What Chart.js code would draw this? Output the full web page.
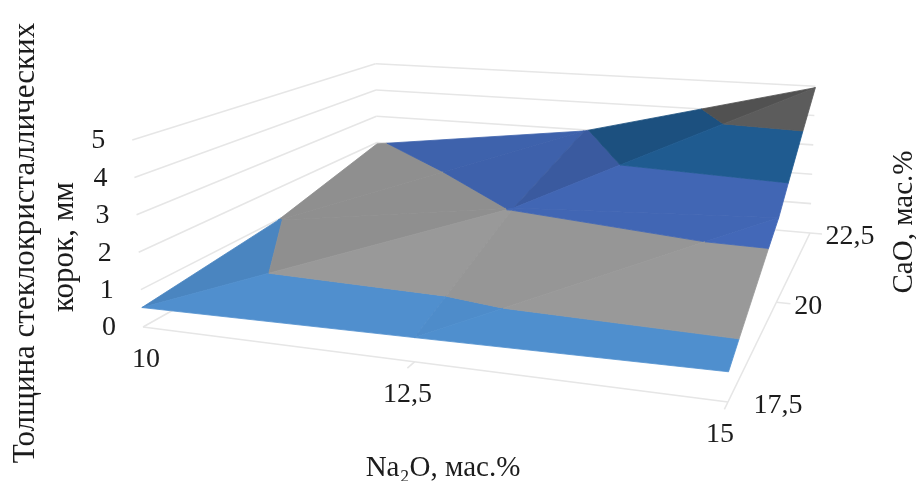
<!DOCTYPE html>
<html>
<head>
<meta charset="utf-8">
<script src="https://cdn.jsdelivr.net/npm/chart.js@4"></script>
<style>
    html, body { margin: 0; padding: 0; background: #fff; }
    #wrap { width: 916px; height: 481px; }
</style>
</head>
<body>
<div id="wrap"><canvas id="surfaceChart" width="916" height="481"></canvas></div>
<script>
const naLabels = ['10', '12,5', '15'];
const caoLabels = ['17,5', '20', '22,5'];
const zTicks = [0, 1, 2, 3, 4, 5];

// thickness, mm: one row per CaO value, one column per Na2O value
const thickness175 = [0.52, 0.60, 0.69];
const thickness20 = [0.98, 2.03, 2.40];
const thickness225 = [1.95, 2.96, 4.95];

const bandColors = ['#5090cf', '#9a9a9a', '#4369b9', '#205d94', '#5e5e5e'];
const gridColor = '#e6e6e6';

// camera: floor homography fitted to the box corners, z grows with 1/w
function project(u, v, z) {
    const w = -0.1336 * u + 0.3795 * v + 1;
    const fx = (487.7 * u + 378.5 * v + 143) / w;
    const fy = (21.3 * u - 58 * v + 327) / w;
    const lean = fx < 450 ? 0.007 : 0.003;
    return {
        x: fx + (fx - 450) * lean * z,
        y: fy - 37.4 / Math.pow(w, 1.1) * z
    };
}

function clipBelow(poly, limit, keepBelow) {
    const out = [];
    poly.forEach((p, i) => {
        const q = poly[(i + 1) % poly.length];
        const pIn = keepBelow ? p.z <= limit : p.z >= limit;
        const qIn = keepBelow ? q.z <= limit : q.z >= limit;
        if (pIn) out.push(p);
        if (pIn !== qIn) {
            const t = (limit - p.z) / (q.z - p.z);
            out.push({ u: p.u + (q.u - p.u) * t, v: p.v + (q.v - p.v) * t, z: limit });
        }
    });
    return out;
}

function shadeColor(hex, k) {
    const n = parseInt(hex.slice(1), 16);
    const r = Math.round(((n >> 16) & 255) * k);
    const g = Math.round(((n >> 8) & 255) * k);
    const b = Math.round((n & 255) * k);
    return `rgb(${r}, ${g}, ${b})`;
}

function node(rows, i, j) {
    return { u: i / 2, v: j / 2, z: rows[j][i] };
}

function surfaceDatasets() {
    const rows = [thickness175, thickness20, thickness225];
    const triangles = [];
    for (let j = 1; j >= 0; j--) {
        for (let i = 0; i < 2; i++) {
            const a = node(rows, i, j);
            const b = node(rows, i + 1, j);
            const c = node(rows, i + 1, j + 1);
            const d = node(rows, i, j + 1);
            triangles.push([a, c, d]);
            triangles.push([a, b, c]);
        }
    }
    const sets = [];
    triangles.forEach(tri => {
        const [p, q, r] = tri;
        const det = (q.u - p.u) * (r.v - p.v) - (r.u - p.u) * (q.v - p.v);
        const dzdu = ((q.z - p.z) * (r.v - p.v) - (r.z - p.z) * (q.v - p.v)) / det;
        const shade = 1 - 0.035 * Math.abs(dzdu);
        bandColors.forEach((color, band) => {
            let poly = tri;
            if (band > 0) poly = clipBelow(poly, band, false);
            if (band < bandColors.length - 1) poly = clipBelow(poly, band + 1, true);
            if (poly.length < 3) return;
            const pts = poly.map(n => project(n.u, n.v, n.z));
            pts.push(pts[0]);
            const col = shadeColor(color, shade);
            sets.push({
                data: pts,
                showLine: true,
                fill: 'shape',
                backgroundColor: col,
                borderColor: col,
                borderWidth: 0.8,
                pointRadius: 0,
                tension: 0
            });
        });
    });
    return sets;
}

function gridLine(from, to) {
    return {
        data: [project(from[0], from[1], from[2]), project(to[0], to[1], to[2])],
        showLine: true,
        fill: false,
        borderColor: gridColor,
        borderWidth: 1.6,
        pointRadius: 0
    };
}

function gridDatasets() {
    const sets = [];
    zTicks.forEach(z => {
        sets.push(gridLine([0, 0, z], [0, 1, z]));
        sets.push(gridLine([0, 1, z], [1, 1, z]));
    });
    sets.push(gridLine([0, 0, 0], [1, 0, 0]));
    sets.push(gridLine([1, 0, 0], [1, 1, 0]));
    // ticks
    sets.push(gridLine([0.5, 0, 0], [0.5, -0.03, 0]));
    sets.push(gridLine([1, 0, 0], [1, -0.03, 0]));
    sets.push(gridLine([1, 0.5, 0], [1.025, 0.5, 0]));
    sets.push(gridLine([1, 1, 0], [1.025, 1, 0]));
    return sets;
}

const axisText = {
    id: 'axisText',
    afterDraw(chart) {
        const ctx = chart.ctx;
        ctx.save();
        ctx.fillStyle = '#1c1c1c';
        ctx.textAlign = 'center';
        ctx.textBaseline = 'middle';
        ctx.font = '28px "Liberation Serif"';

        zTicks.forEach(z => {
            const p = project(0, 0, z);
            ctx.fillText(String(z), p.x - 34, p.y + 1);
        });
        const naShift = [3, -7, -8];
        naLabels.forEach((t, i) => {
            const p = project(i / 2, 0, 0);
            ctx.fillText(t, p.x + naShift[i], p.y + 33);
        });
        const caoShift = [50, 32, 40];
        caoLabels.forEach((t, j) => {
            const p = project(1, j / 2, 0);
            ctx.fillText(t, p.x + caoShift[j], p.y + 4);
        });

        ctx.font = '29px "Liberation Serif"';
        ctx.fillText('Na₂O, мас.%', 443, 468);

        ctx.save();
        ctx.translate(904, 222);
        ctx.rotate(-Math.PI / 2);
        ctx.fillText('CaO, мас.%', 0, 0);
        ctx.restore();

        ctx.font = '31px "Liberation Serif"';
        ctx.save();
        ctx.translate(26, 243);
        ctx.rotate(-Math.PI / 2);
        ctx.fillText('Толщина стеклокристаллических', 0, 0);
        ctx.restore();

        ctx.save();
        ctx.translate(65, 247);
        ctx.rotate(-Math.PI / 2);
        ctx.fillText('корок, мм', 0, 0);
        ctx.restore();

        ctx.restore();
    }
};

new Chart(document.getElementById('surfaceChart').getContext('2d'), {
    type: 'scatter',
    data: { datasets: surfaceDatasets().reverse().concat(gridDatasets()) },
    options: {
        responsive: false,
        animation: false,
        layout: { padding: 0 },
        plugins: { legend: { display: false }, tooltip: { enabled: false } },
        scales: {
            x: { type: 'linear', display: false, min: 0, max: 916 },
            y: { type: 'linear', display: false, min: 0, max: 481, reverse: true }
        }
    },
    plugins: [axisText]
});
</script>
</body>
</html>
